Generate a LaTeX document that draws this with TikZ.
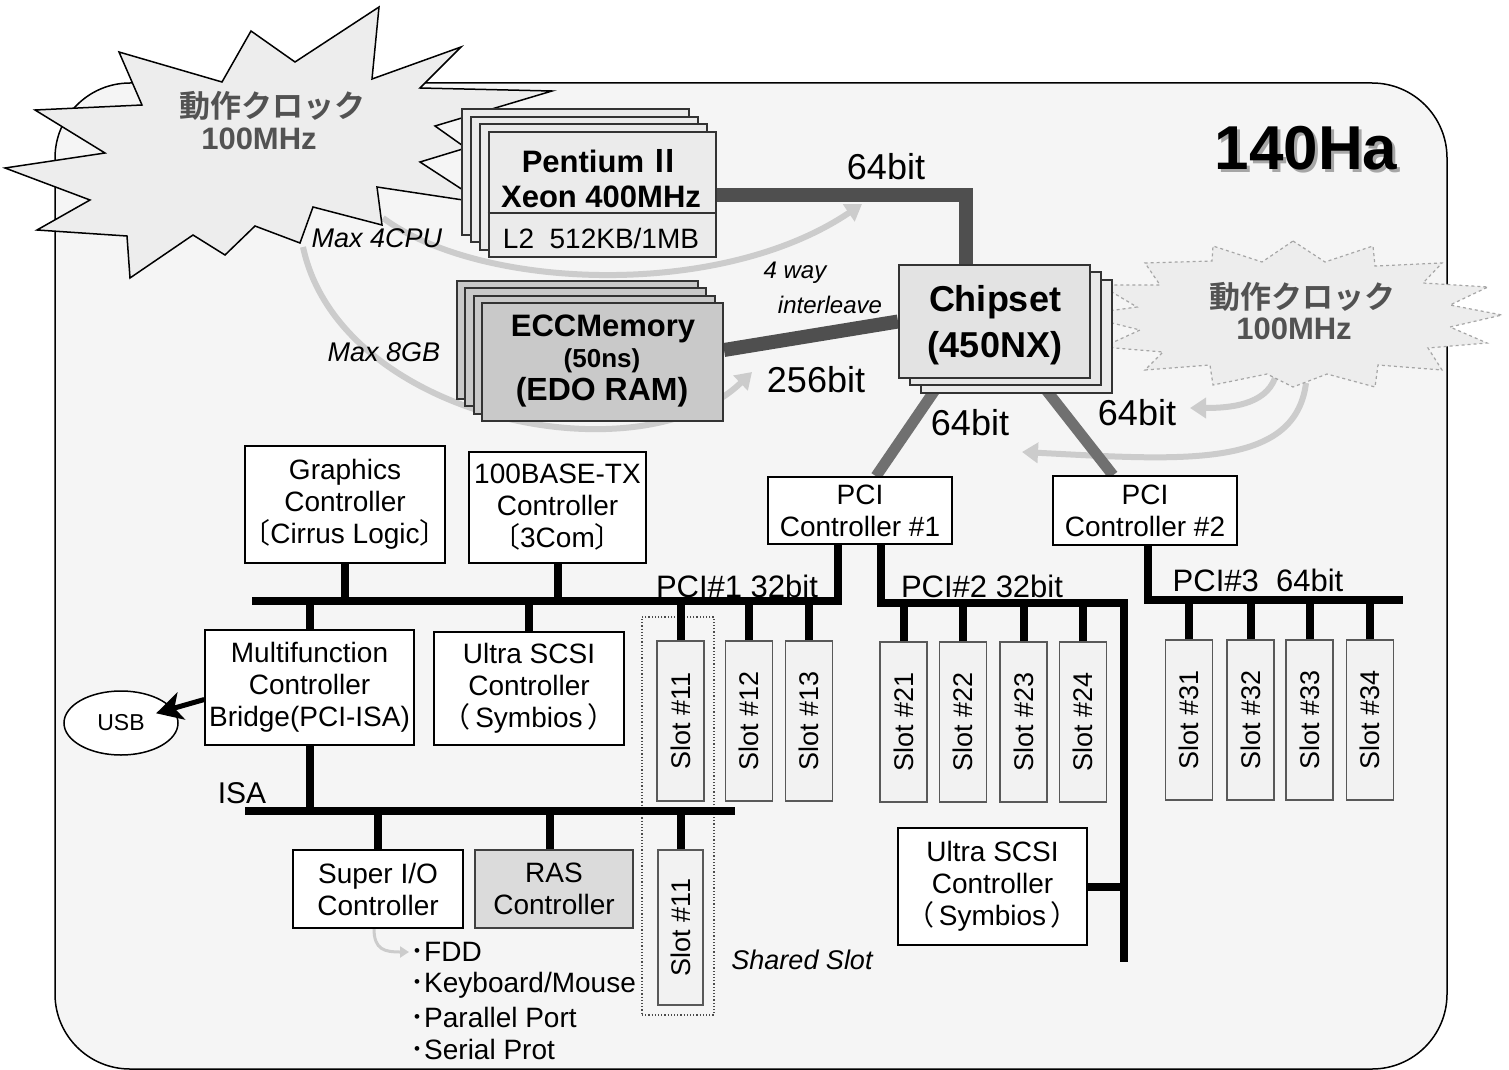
\documentclass[tikz,border=0pt]{standalone}
\usepackage{fontspec}
\usepackage{graphicx}
\setmainfont{Liberation Sans}
\newfontfamily\cjk{Noto Sans CJK JP}[BoldFont={Noto Sans CJK JP Bold}]
\usetikzlibrary{arrows.meta,shapes.geometric,calc}
\pgfdeclarelayer{bg}
\pgfdeclarelayer{under}
\pgfsetlayers{bg,under,main}
\newcommand\fsz[2]{\fontsize{#1pt}{#2pt}\selectfont}
\newcommand\tlb{{\cjk\kern-.5em〔}}
\newcommand\trb{{\cjk 〕\kern-.5em}}
\newcommand\plb{{\cjk\kern-.5em（}}
\newcommand\prb{{\cjk ）\kern-.5em}}
\begin{document}
\begin{tikzpicture}[x=1pt,y=-1pt,
 dev/.style={draw=black,line width=1.5pt,fill=white,inner sep=0pt,align=center,font=\fsz{28}{32}},
 cpubox/.style={draw=black!80,line width=2pt,fill=black!8,inner sep=0pt,minimum width=227pt,minimum height=125pt},
 membox/.style={draw=black!80,line width=2pt,fill=black!21,inner sep=0pt,minimum width=241pt,minimum height=118pt},
 chipbox/.style={draw=black!80,line width=2pt,fill=black!9,inner sep=0pt,minimum width=191pt,minimum height=113pt},
 slotbox/.style={draw=black!65,line width=1.5pt,fill=black!5,inner sep=0pt,minimum width=47pt,minimum height=160pt,font=\fsz{27}{30}},
 bus/.style={line width=8pt,draw=black},
 fatline/.style={line width=14pt,draw=black!69},
 pciline/.style={line width=11pt,draw=black!56},
 garc/.style={line width=6pt,draw=black!20,-{Triangle[length=16pt,width=20pt]}},
 txt/.style={inner sep=0pt,font=\fsz{28}{32}},
 bigl/.style={inner sep=0pt,font=\fsz{36}{40}},
 ital/.style={inner sep=0pt,font=\fsz{27}{30}\itshape},
 boldt/.style={inner sep=0pt,font=\fsz{31}{34}\bfseries},
 bursttxt/.style={inner sep=0pt,text=black!68,font=\fsz{31}{34}\bfseries}
]
\useasboundingbox (0,0) rectangle (1509,1070);
\begin{pgfonlayer}{bg}
\fill[white] (0,0) rectangle (1509,1070);
\draw[line width=1.5pt,fill=black!4,rounded corners=75pt] (55,83) rectangle (1447,1069);
\end{pgfonlayer}

% CPU stack
\node[cpubox] (cpu1) at (575,172) {};
\node[cpubox] (cpu2) at (584,179.5) {};
\node[cpubox] (cpu3) at (593,187) {};
\node[cpubox] (cpu4) at (602,194.5) {};
\draw[line width=2pt,draw=black!80] ([yshift=-18.5pt]cpu4.west) -- ([yshift=-18.5pt]cpu4.east);
\node[boldt] (cpuA) at (601,161) {Pentium\,{\cjk\bfseries Ⅱ}};
\node[boldt] (cpuB) at (601,197) {Xeon 400MHz};
\node[txt] (cpuC) at (601,238) {L2\ \ 512KB/1MB};

% Memory stack
\node[membox] (mem1) at (577,340) {};
\node[membox] (mem2) at (585.5,347) {};
\node[membox] (mem3) at (594,354.5) {};
\node[membox] (mem4) at (602.5,362) {};
\node[boldt] (memA) at (603,329) {ECCMemory};
\node[inner sep=0pt,font=\fsz{26}{28}\bfseries] (memB) at (602,361) {(50ns)};
\node[inner sep=0pt,font=\fsz{32}{34}\bfseries] (memC) at (602,392) {(EDO RAM)};

% Chipset stack
\node[chipbox,fill=black!8] (chip3) at (1016.5,336.5) {};
\node[chipbox] (chip2) at (1005.5,328.5) {};
\node[chipbox,fill=black!11] (chip1) at (994.5,321.5) {};
\node[inner sep=0pt,font=\fsz{36}{40}\bfseries] (chipA) at (995,302) {Chipset};
\node[inner sep=0pt,font=\fsz{36}{40}\bfseries] (chipB) at (995,348) {(450NX)};

% PCI controllers
\node[dev,minimum width=184pt,minimum height=67pt] (pci1) at (860,510.5) {PCI\\Controller \#1};
\node[dev,minimum width=184pt,minimum height=69pt] (pci2) at (1145,510.5) {PCI\\Controller \#2};

% devices
\node[dev,minimum width=200pt,minimum height=117pt] (gfx) at (345,504.5) {Graphics\\Controller\\\tlb Cirrus Logic\trb};
\node[dev,minimum width=177pt,minimum height=111pt] (eth) at (557.5,507.5) {100BASE-TX\\Controller\\\tlb 3Com\trb};
\node[dev,minimum width=209pt,minimum height=115pt] (mfc) at (309.5,687.5) {Multifunction\\Controller\\Bridge(PCI-ISA)};
\node[dev,minimum width=190pt,minimum height=113pt] (scsiA) at (529,688.5) {Ultra SCSI\\Controller\\\plb\,Symbios\,\prb};
\node[dev,minimum width=189pt,minimum height=117pt] (scsiB) at (992.5,886.5) {Ultra SCSI\\Controller\\\plb\,Symbios\,\prb};
\node[dev,minimum width=170pt,minimum height=78pt] (sio) at (378,889) {Super I/O\\Controller};
\node[dev,fill=black!14,draw=black!75,minimum width=158pt,minimum height=78pt] (ras) at (554,889) {RAS\\Controller};
\node[draw=black,line width=1.5pt,ellipse,fill=white,minimum width=114pt,minimum height=64pt,inner sep=0pt,font=\fsz{23}{26}] (usb) at (121,723) {USB};

% shared slot frame
\node[draw=black!70,line width=1.2pt,dotted,minimum width=72pt,minimum height=398pt,inner sep=0pt] (shared) at (678,816) {};

% buses
\coordinate (b1L) at (252,601);
\coordinate (b2c) at (1124,603);
\coordinate (b2e) at (1124,962);
\coordinate (b3R) at (1403,600);
\coordinate (isaL) at (245,811);
\coordinate (isaR) at (735,811);
\draw[bus] ([xshift=-22pt]pci1.south) |- (b1L);
\draw[bus] ([xshift=21pt]pci1.south) |- (b2c) -- (b2e);
\draw[bus] ([xshift=3pt]pci2.south) |- (b3R);
\draw[bus] (gfx.south) -- (gfx.south |- b1L);
\draw[bus] (eth.south) -- (eth.south |- b1L);
\draw[bus] (mfc.north) -- (mfc.north |- b1L);
\draw[bus] (scsiA.north) -- (scsiA.north |- b1L);

\foreach \n/\x in {11/680.5,12/749,13/809}{
  \node[slotbox] (s\n) at (\x,721) {\rotatebox{90}{Slot \#\n}};
  \draw[bus] (s\n.north) -- (s\n.north |- b1L);}
\foreach \n/\x in {21/903.5,22/963,23/1023.5,24/1083}{
  \node[slotbox] (s\n) at (\x,722) {\rotatebox{90}{Slot \#\n}};
  \draw[bus] (s\n.north) -- (s\n.north |- b2c);}
\foreach \n/\x in {31/1189,32/1250.5,33/1309.5,34/1370}{
  \node[slotbox] (s\n) at (\x,720) {\rotatebox{90}{Slot \#\n}};
  \draw[bus] (s\n.north) -- (s\n.north |- b3R);}

\node[slotbox,minimum height=155pt,minimum width=45pt] (s11b) at (680.5,927.5) {\rotatebox{90}{Slot \#11}};

\draw[bus] (isaL) -- (isaR);
\draw[bus] (mfc.south) -- (mfc.south |- isaL);
\draw[bus] (sio.north) -- (sio.north |- isaL);
\draw[bus] ([xshift=-4pt]ras.north) -- ([xshift=-4pt]ras.north |- isaL);
\draw[bus] (s11b.north) -- (s11b.north |- isaL);
\draw[bus] (scsiB.east) -- (scsiB.east -| b2c);

\draw[line width=5pt,-{Stealth[length=26pt,width=28pt,inset=7pt]}] ([yshift=-12pt]mfc.west) -- ([xshift=-20pt]usb.10);

% labels
\node[bigl] (l64a) at (886,167) {64bit};
\node[bigl] (l256) at (816,380) {256bit};
\node[bigl] (l64b) at (970,423) {64bit};
\node[bigl] (l64c) at (1137,413) {64bit};
\node[inner sep=0pt,font=\fsz{24}{26}\itshape] (way) at (795,273) {4 way};
\node[inner sep=0pt,font=\fsz{24}{26}\itshape] (intl) at (830,305) {interleave};
\node[ital] (max4) at (377,238) {Max 4CPU};
\node[ital] (max8) at (384,352) {Max 8GB};
\node[inner sep=0pt,font=\fsz{31}{33}] (pcil1) at (737,586) {PCI\#1 32bit};
\node[inner sep=0pt,font=\fsz{31}{33}] (pcil2) at (982,586) {PCI\#2 32bit};
\node[inner sep=0pt,font=\fsz{31}{33}] (pcil3) at (1258,580) {PCI\#3\ \ 64bit};
\node[inner sep=0pt,font=\fsz{30}{32}] (isa) at (242,793) {ISA};
\node[ital] (shrd) at (802,960) {Shared Slot};
\node[txt,anchor=west] (fdd) at (410,952) {{\cjk ･}FDD};
\node[txt,anchor=west] (kbd) at (410,985) {{\cjk ･}Keyboard/Mouse};
\node[txt,anchor=west] (par) at (410,1017) {{\cjk ･}Parallel Port};
\node[txt,anchor=west] (ser) at (410,1049) {{\cjk ･}Serial Prot};

% title
\node[inner sep=0pt,font=\fsz{62}{66}\bfseries,text=black!35] (ttlS) at (1309,151) {140Ha};
\node[inner sep=0pt,font=\fsz{62}{66}\bfseries] (ttl) at (1306,148) {140Ha};

% burst texts
\node[bursttxt] (bL1) at (272,106) {\cjk\bfseries 動作クロック};
\node[bursttxt] (bL2) at (259,139) {100MHz};
\node[bursttxt] (bR1) at (1302,297) {\cjk\bfseries 動作クロック};
\node[bursttxt] (bR2) at (1294,329) {100MHz};

\begin{pgfonlayer}{under}
% gray curved arrows
\draw[garc] (383,218) .. controls (480,290) and (720,300) .. (862,204);
\draw[garc] (303,247) .. controls (340,420) and (640,480) .. (752,372);
\draw[garc] (1306,383) .. controls (1295,470) and (1180,460) .. (1022,452);
\draw[garc] (1275,378) .. controls (1265,405) and (1230,408) .. (1190,408);
\draw[line width=3pt,draw=black!20,-{Triangle[length=9pt,width=11pt]}] ([xshift=-4pt]sio.south) .. controls (374,950) and (385,952) .. ([xshift=-1pt]fdd.west);
% left burst
\draw[line width=1.5pt,fill=black!7] (379,7) -- (372,79) -- (461,47) -- (420,88) -- (552,91) -- (435,126) -- (466,148) -- (420,162) -- (483,203) -- (377,187) -- (382,225) -- (313,207) -- (300,243) -- (255,226) -- (225,255) -- (193,235) -- (130,278) -- (127,236) -- (37,230) -- (90,200) -- (5,168) -- (105,153) -- (35,110) -- (142,105) -- (119,52) -- (222,82) -- (251,31) -- (295,62) -- cycle;
% right burst
\draw[line width=1.2pt,draw=black!35,dashed,fill=black!7] (1293,241) -- (1325,262) -- (1373,246) -- (1375,266) -- (1442,263) -- (1423,283) -- (1488,287) -- (1450,305) -- (1502,315) -- (1450,327) -- (1487,343) -- (1428,348) -- (1442,370) -- (1378,365) -- (1375,387) -- (1327,374) -- (1293,387) -- (1267,374) -- (1213,385) -- (1210,365) -- (1145,370) -- (1163,352) -- (1103,347) -- (1140,330) -- (1080,315) -- (1137,307) -- (1100,285) -- (1160,285) -- (1145,263) -- (1212,261) -- (1213,246) -- (1262,262) -- cycle;
% thick links
\draw[fatline] (cpu4.east) -| ([xshift=-28.5pt]chip1.north);
\draw[fatline] ([yshift=12pt]mem4.east) -- (chip1.west);
\draw[pciline] ([xshift=-52pt]chip1.south) -- ([xshift=16pt]pci1.north);
\draw[pciline] ([xshift=43pt]chip1.south) -- ([xshift=-32pt]pci2.north);
\end{pgfonlayer}
\end{tikzpicture}
\end{document}
